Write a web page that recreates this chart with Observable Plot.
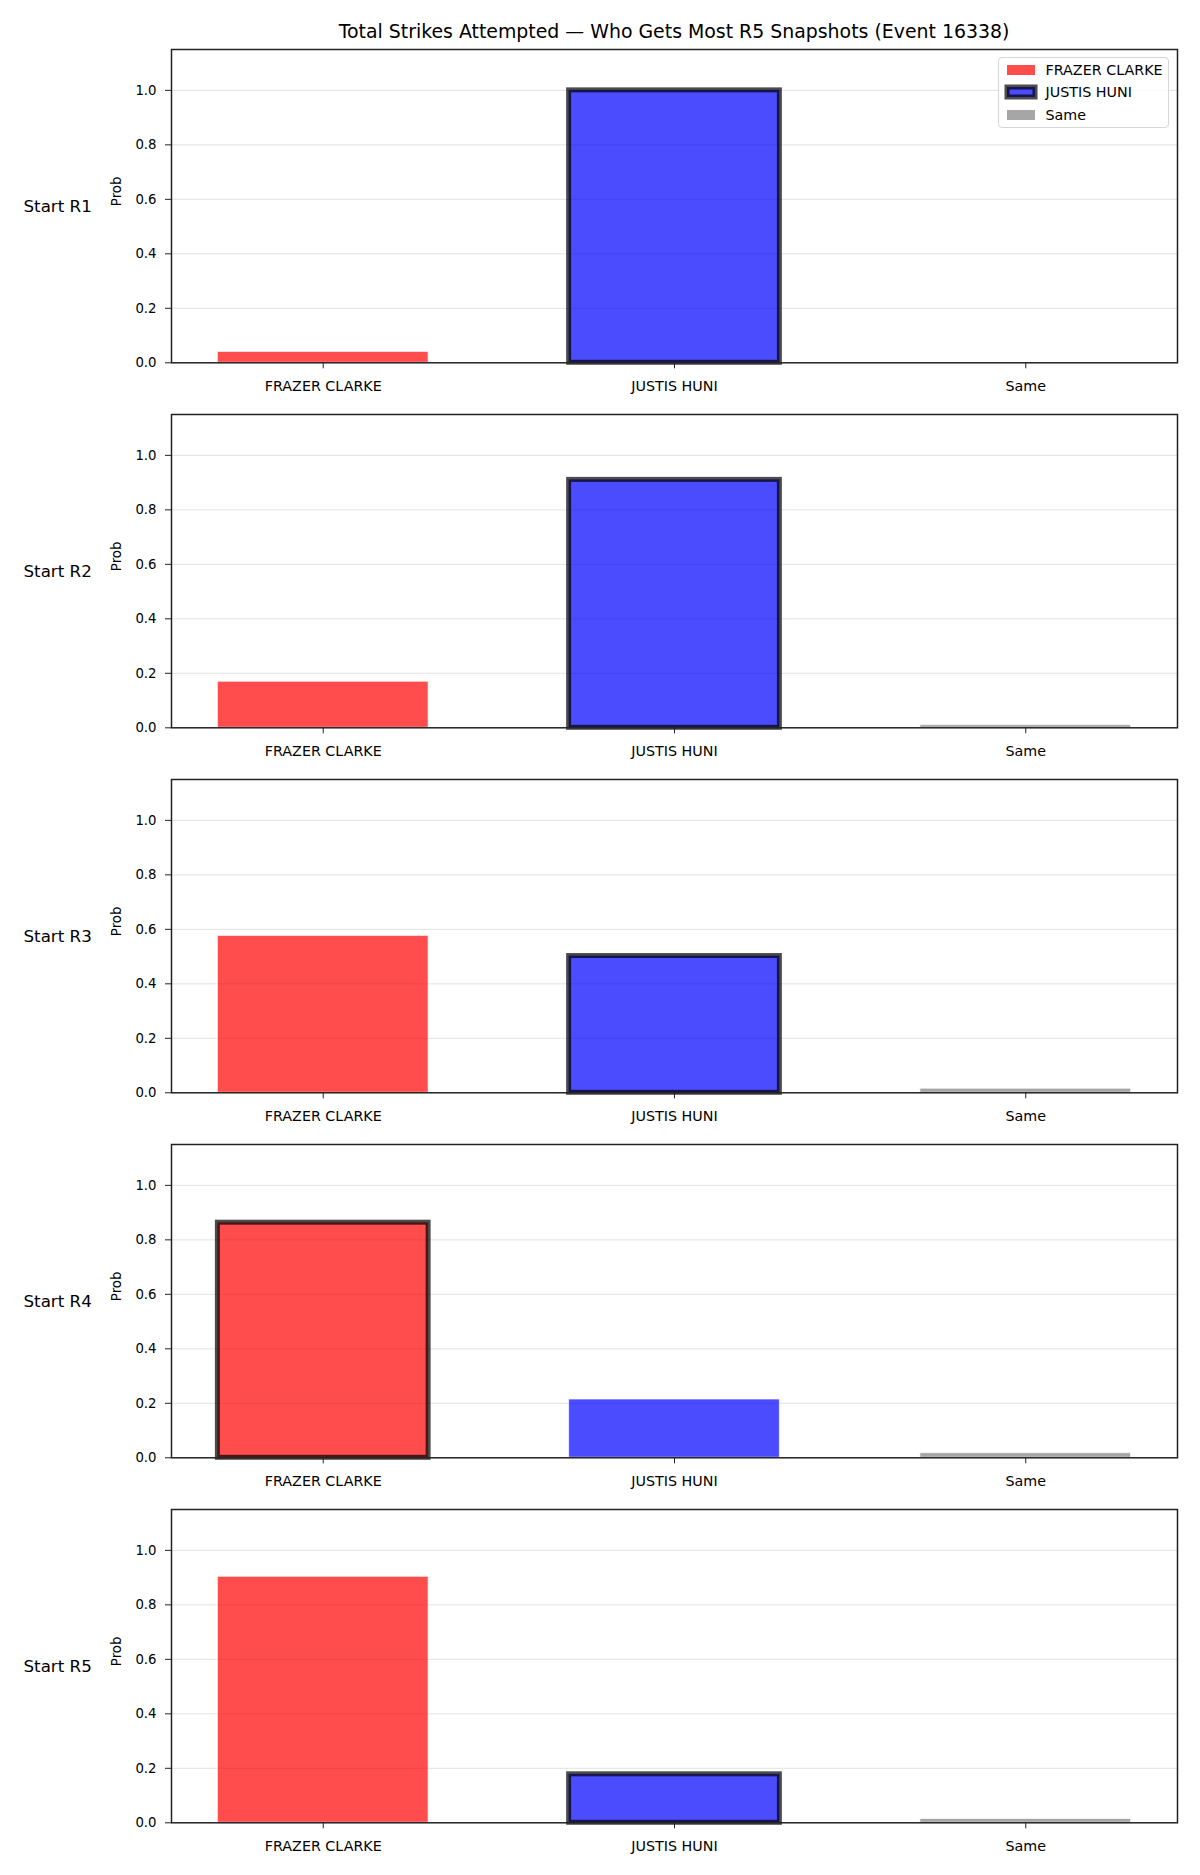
<!DOCTYPE html>
<html>
<head>
<meta charset="utf-8">
<script src="https://cdn.jsdelivr.net/npm/d3@7"></script>
<script src="https://cdn.jsdelivr.net/npm/@observablehq/plot@0.6"></script>
<style>
  html, body { margin: 0; padding: 0; background: #fff; }
  body { font-family: "DejaVu Sans", sans-serif; }
  #wrap { position: relative; width: 1200px; height: 1875px; overflow: hidden; }
  .panel { position: absolute; left: 0; }
  #title { position: absolute; left: 171px; width: 1006px; top: 20px; text-align: center;
           font-size: 18.9px; line-height: 22px; color: #000; }
  #legend { position: absolute; left: 998px; top: 57px; width: 171px; height: 71px;
            border: 1px solid #d6d6d6; border-radius: 4px; background: rgba(255,255,255,0.8);
            box-sizing: border-box; z-index: 5; }
  .lrow { position: absolute; left: 0; height: 20px; display: flex; align-items: center; }
  .lrow svg { margin-left: 5px; }
  .lrow span { font-size: 14.3px; margin-left: 5.5px; color: #000; white-space: nowrap; }
</style>
</head>
<body>
<div id="wrap">
  <div id="title"></div>
</div>
<script>
const title = "Total Strikes Attempted — Who Gets Most R5 Snapshots (Event 16338)";
const rounds = ["Start R1", "Start R2", "Start R3", "Start R4", "Start R5"];
const categories = ["FRAZER CLARKE", "JUSTIS HUNI", "Same"];
const frazer = [0.04, 0.169, 0.576, 0.863, 0.903];
const justis = [1.0, 0.91, 0.502, 0.214, 0.178];
const same = [0.0, 0.01, 0.015, 0.017, 0.014];
const highlight = ["JUSTIS HUNI", "JUSTIS HUNI", "JUSTIS HUNI", "FRAZER CLARKE", "JUSTIS HUNI"];
const yTicks = [0, 0.2, 0.4, 0.6, 0.8, 1.0];
const colors = {"FRAZER CLARKE": "#ff0000", "JUSTIS HUNI": "#0000ff", "Same": "#808080"};

document.getElementById("title").textContent = title;
const wrap = document.getElementById("wrap");

const panelTop0 = 49, panelStep = 364.9, panelH = 313.3;
const mTop = 10, mBottom = 70;

rounds.forEach((r, i) => {
  const vals = [frazer[i], justis[i], same[i]];
  const data = categories.map((c, j) => ({cat: c, value: vals[j], hl: highlight[i] === c}));
  const chart = Plot.plot({
    width: 1200,
    height: mTop + panelH + mBottom,
    marginTop: mTop,
    marginBottom: mBottom,
    marginLeft: 171,
    marginRight: 23,
    style: {fontFamily: "DejaVu Sans", fontSize: "13.3px", color: "#222", background: "transparent"},
    x: {type: "band", domain: categories, paddingInner: 0.4, paddingOuter: 0.132, round: false},
    y: {domain: [0, 1.15]},
    marks: [
      Plot.gridY(yTicks.slice(1), {stroke: "#e2e2e2", strokeOpacity: 1, strokeWidth: 1}),
      Plot.barY(data.filter(d => !d.hl), {x: "cat", y: "value", fill: d => colors[d.cat],
        fillOpacity: 0.7, stroke: "#ffffff", strokeOpacity: 0.7, strokeWidth: 1}),
      Plot.barY(data.filter(d => d.hl), {x: "cat", y: "value", fill: d => colors[d.cat],
        fillOpacity: 0.7, stroke: "#000000", strokeOpacity: 0.7, strokeWidth: 5}),
      Plot.frame({stroke: "#222", strokeWidth: 1.5}),
      Plot.axisY(yTicks, {tickFormat: d3.format(".1f"), tickSize: 6, tickPadding: 9,
        label: null, fill: "#000", fontSize: 13.3}),
      Plot.axisX({tickSize: 6, tickPadding: 12, label: null, fill: "#000", fontSize: 14.3}),
      Plot.text(["Prob"], {text: d => d, frameAnchor: "left", dx: -55, rotate: -90,
        fontSize: 13.3, fill: "#000"}),
      Plot.text([r], {text: d => d, frameAnchor: "left", dx: -148, textAnchor: "start",
        fontSize: 16.7, fill: "#000"})
    ],
    color: {type: "identity"}
  });
  chart.classList.add("panel");
  chart.style.top = (panelTop0 + i * panelStep - mTop) + "px";
  wrap.appendChild(chart);
});

// legend
const legend = document.createElement("div");
legend.id = "legend";
const rowsY = [69, 91.2, 113.5];
categories.forEach((c, j) => {
  const row = document.createElement("div");
  row.className = "lrow";
  row.style.top = (rowsY[j] - 57 - 10) + "px";
  const hl = c === "JUSTIS HUNI";
  const ns = "http://www.w3.org/2000/svg";
  const s = document.createElementNS(ns, "svg");
  s.setAttribute("width", 36); s.setAttribute("height", 20);
  const rect = document.createElementNS(ns, "rect");
  rect.setAttribute("x", 3); rect.setAttribute("y", 5);
  rect.setAttribute("width", 28); rect.setAttribute("height", 10);
  rect.setAttribute("fill", colors[c]); rect.setAttribute("fill-opacity", 0.7);
  if (hl) { rect.setAttribute("stroke", "#000"); rect.setAttribute("stroke-opacity", 0.7); rect.setAttribute("stroke-width", 5); }
  s.appendChild(rect);
  row.appendChild(s);
  const t = document.createElement("span");
  t.textContent = c;
  row.appendChild(t);
  legend.appendChild(row);
});
wrap.appendChild(legend);
</script>
</body>
</html>
